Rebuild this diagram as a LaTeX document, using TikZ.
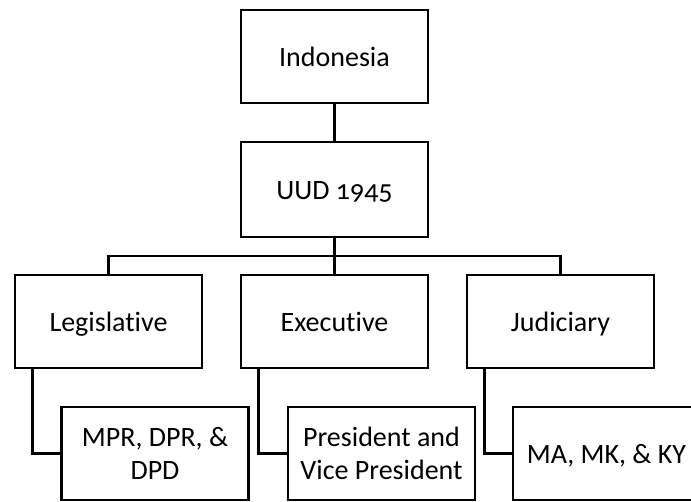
\documentclass[tikz,border=0pt]{standalone}
\usepackage{fontspec}
\setmainfont{Carlito}[Numbers=OldStyle,Ligatures=NoCommon]
\begin{document}
\begin{tikzpicture}[x=1pt,y=-1pt,
  box/.style={draw=black, line width=2.8pt, fill=white, minimum width=187pt, minimum height=93pt,
    inner sep=0pt, align=center, font=\fontsize{28}{33}\selectfont},
  onebox/.style={box, text height=22pt, text depth=2pt},
  link/.style={draw=black, line width=2.8pt}]
\useasboundingbox (0,0) rectangle (691,502);
\clip (0,0) rectangle (691,502);
\node[onebox] (ind) at (334.5,56.5) {Indonesia};
\node[onebox, minimum height=95pt] (uud) at (334.5,189.5) {UUD 1945};
\node[onebox] (leg) at (108.5,321.5) {Legislative};
\node[onebox] (exe) at (334.5,321.5) {Executive};
\node[onebox] (jud) at (560.5,321.5) {Judiciary};
\node[box] (mpr) at (155,453.5) {MPR, DPR, \&\\DPD};
\node[box] (pres) at (381.5,453.5) {President and\\Vice President};
\node[onebox] (ma) at (606.5,453.5) {MA, MK, \& KY};
\coordinate (bus) at (334.5,256);
\draw[link] (ind.south) -- (uud.north);
\draw[link] (uud.south) -- (exe.north);
\draw[link] (leg.north) |- (bus) -| (jud.north);
\draw[link] ([xshift=19pt]leg.south west) |- (mpr.west);
\draw[link] ([xshift=19pt]exe.south west) |- (pres.west);
\draw[link] ([xshift=19pt]jud.south west) |- (ma.west);
\end{tikzpicture}
\end{document}
